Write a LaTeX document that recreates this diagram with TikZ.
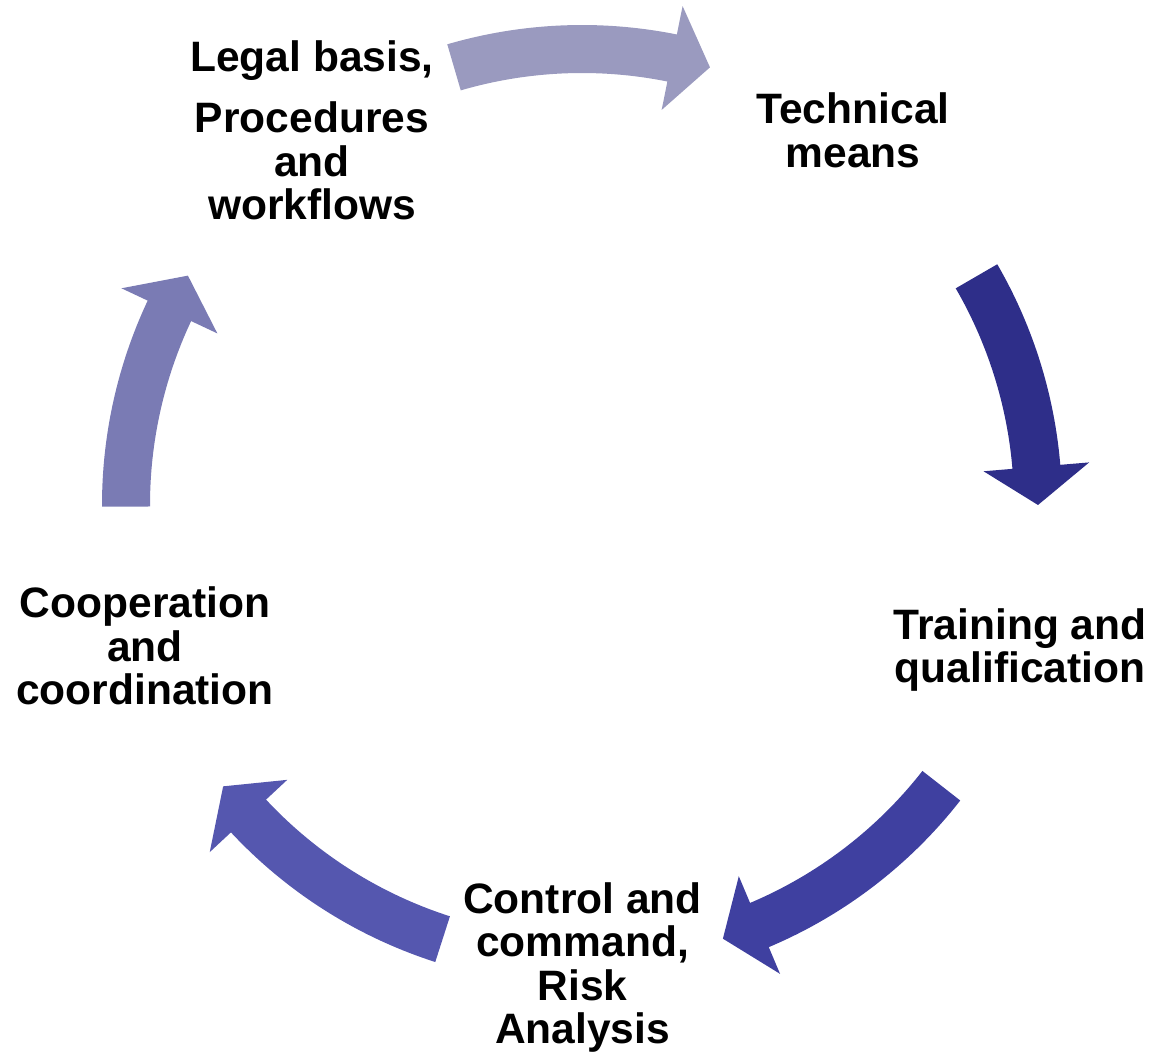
\documentclass[tikz,border=0pt]{standalone}
\usepackage{fontspec}
\setmainfont{Liberation Sans}

\definecolor{cycleA}{RGB}{154,154,191}
\definecolor{cycleB}{RGB}{46,46,137}
\definecolor{cycleC}{RGB}{63,64,160}
\definecolor{cycleD}{RGB}{85,87,175}
\definecolor{cycleE}{RGB}{122,123,180}

\tikzset{
  cyclelabel/.style={align=center, inner sep=0pt,
    font=\fontsize{24.2pt}{24.8pt}\selectfont\bfseries},
}

\begin{document}
\begin{tikzpicture}
    \useasboundingbox (-11.64,-10.98) rectangle (11.38,10.10);

    % Curved block arrows round the cycle: start angle / neck angle / tip angle / colour
    \foreach \sa/\ha/\ta/\col in {106.3/78.6/73.7/cycleA, 30.1/4.8/0.0/cycleB,
                                  -38.0/-67.1/-72.0/cycleC, -107.8/-137.0/-141.9/cycleD,
                                  180.2/154.8/149.8/cycleE} {
        \fill[\col] (\sa:9.6) arc[start angle=\sa, end angle=\ha, radius=9.6]
            -- (\ha:10.18) -- (\ta:9.12) -- (\ha:8.06) -- (\ha:8.64)
            arc[start angle=\ha, end angle=\sa, radius=8.64] -- cycle;
    }

    % Stage labels
    \node[cyclelabel] (legal) at (-5.40,7.49) {Legal basis,\\[9.7pt] Procedures\\ and\\ workflows};
    \node[cyclelabel] (technical) at (5.42,7.49) {Technical\\ means};
    \node[cyclelabel] (training) at (8.76,-2.90) {Training and\\ qualification};
    \node[cyclelabel] (control) at (0.01,-9.25) {Control and\\ command,\\ Risk\\ Analysis};
    \node[cyclelabel] (cooperation) at (-8.74,-2.82) {Cooperation\\ and\\ coordination};

\end{tikzpicture}
\end{document}
